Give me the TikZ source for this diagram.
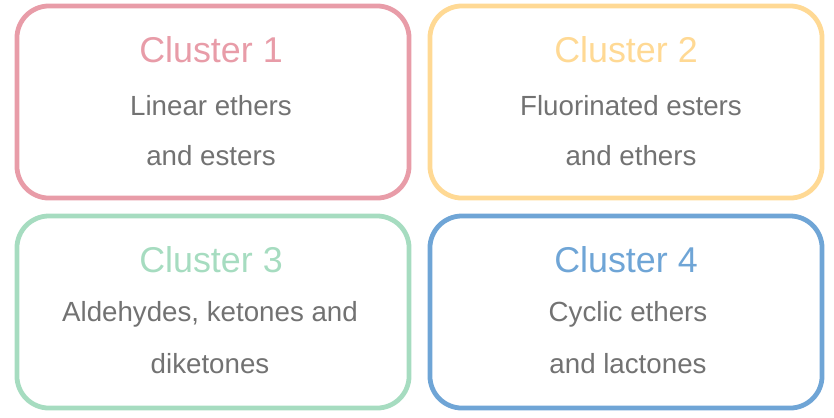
\documentclass[tikz,border=0pt]{standalone}
\usepackage{fontspec}
\setmainfont{Liberation Sans}
\usetikzlibrary{positioning}
\definecolor{clpink}{HTML}{E89CA8}
\definecolor{clyellow}{HTML}{FFD994}
\definecolor{clgreen}{HTML}{A6DCC0}
\definecolor{clblue}{HTML}{6FA5D6}
\definecolor{txtgray}{HTML}{727272}
\begin{document}
\begin{tikzpicture}[x=0.025cm, y=-0.025cm,
    box/.style={draw=#1, line width=3.4pt, rounded corners=0.8cm, minimum width=9.8cm, minimum height=4.8cm},
    title/.style={text=#1, font=\fontsize{25.5}{30}\selectfont},
    body/.style={text=txtgray, font=\fontsize{19.7}{23}\selectfont}]
        \useasboundingbox (0,0) rectangle (834,417);

        % Cluster 1
        \node[box=clpink] (b1) at (213,102) {};
        \node[title=clpink] (t1) at (211,50) {Cluster 1};
        \node[body] (l1a) at (211,106) {Linear ethers};
        \node[body] (l1b) at (211,156) {and esters};

        % Cluster 2
        \node[box=clyellow] (b2) at (626,102) {};
        \node[title=clyellow] (t2) at (626,50) {Cluster 2};
        \node[body] (l2a) at (631,106) {Fluorinated esters};
        \node[body] (l2b) at (631,156) {and ethers};

        % Cluster 3
        \node[box=clgreen] (b3) at (213,312) {};
        \node[title=clgreen] (t3) at (211,260) {Cluster 3};
        \node[body] (l3a) at (210,314) {Aldehydes, ketones and};
        \node[body] (l3b) at (210,364) {diketones};

        % Cluster 4
        \node[box=clblue] (b4) at (626,312) {};
        \node[title=clblue] (t4) at (626,260) {Cluster 4};
        \node[body] (l4a) at (628,314) {Cyclic ethers};
        \node[body] (l4b) at (628,364) {and lactones};
\end{tikzpicture}
\end{document}
